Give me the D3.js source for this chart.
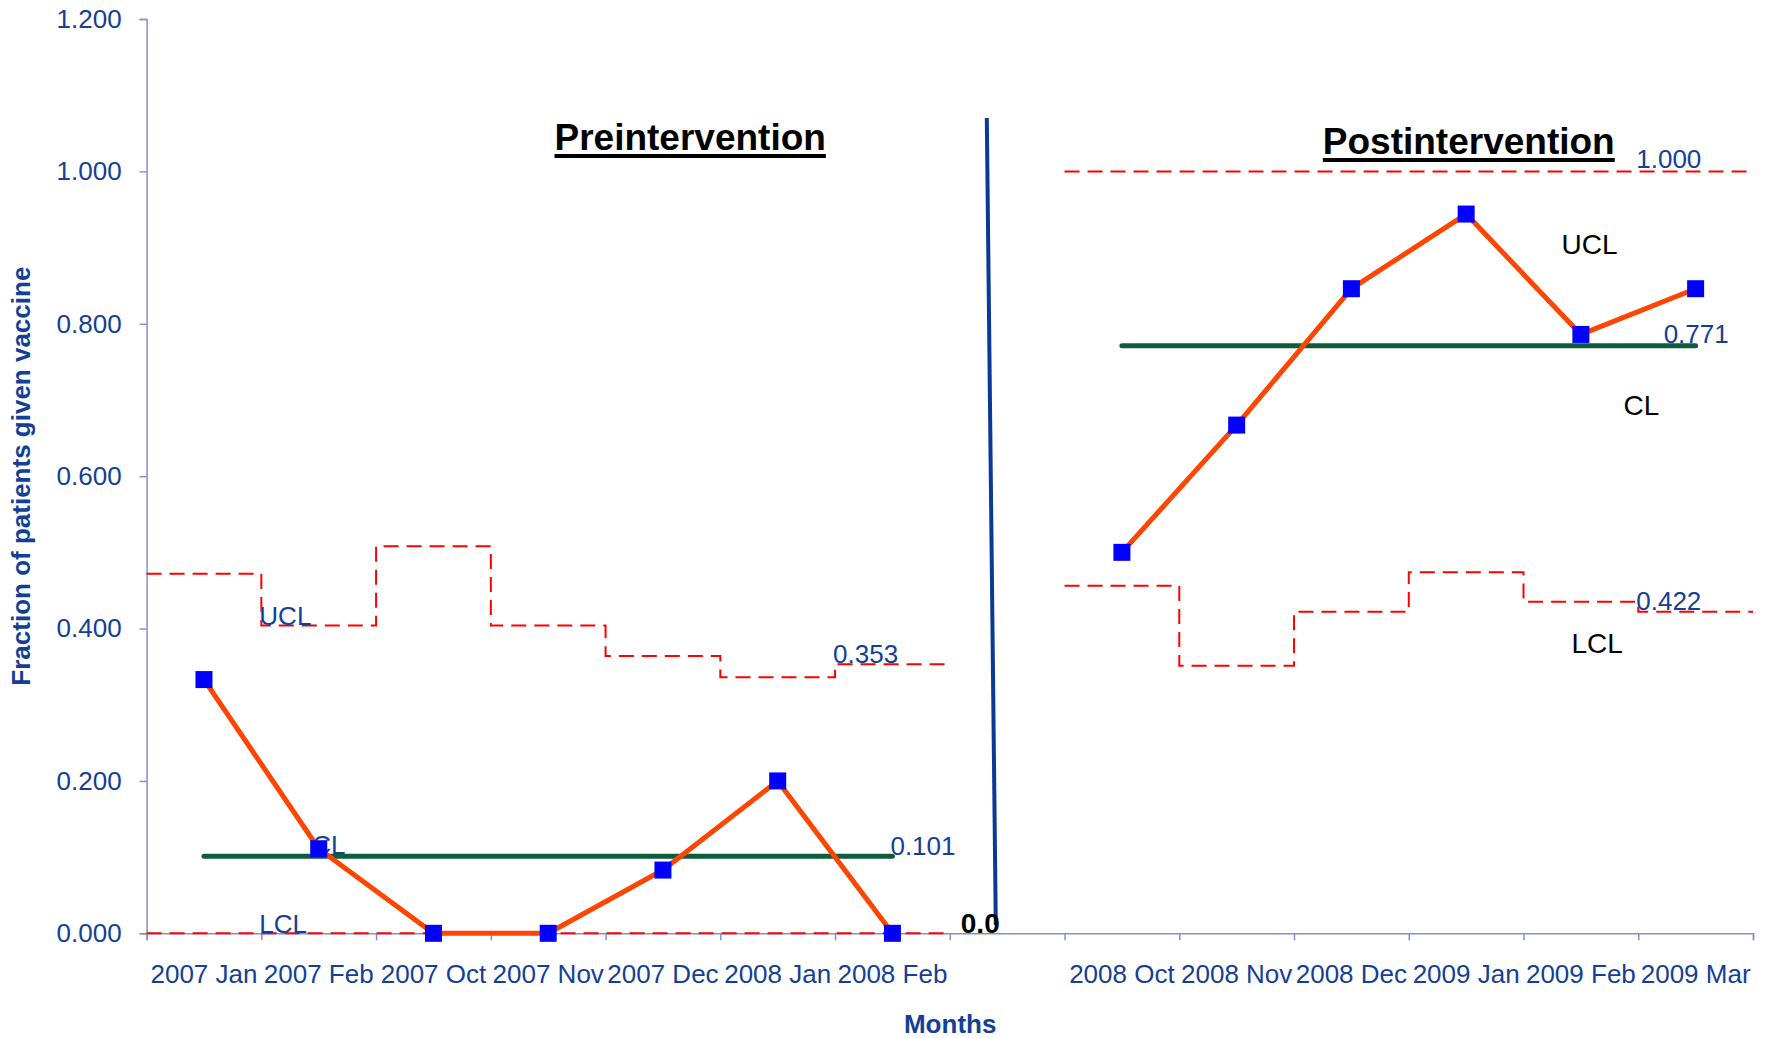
<!DOCTYPE html>
<html>
<head>
<meta charset="utf-8">
<script src="https://cdn.jsdelivr.net/npm/d3@7"></script>
<style>
  html, body { margin: 0; padding: 0; background: #fff; }
  svg { display: block; }
  text { font-family: "Liberation Sans", Arial, sans-serif; }
</style>
</head>
<body>
<svg id="chart" width="1767" height="1038"></svg>
<script>
// ---------------- data ----------------
const categories = ["2007 Jan", "2007 Feb", "2007 Oct", "2007 Nov", "2007 Dec", "2008 Jan", "2008 Feb", "",
                    "2008 Oct", "2008 Nov", "2008 Dec", "2009 Jan", "2009 Feb", "2009 Mar"];
const preFraction  = [0.333, 0.111, 0.000, 0.000, 0.083, 0.200, 0.000];
const postFraction = [0.500, 0.667, 0.846, 0.944, 0.786, 0.846];
const preUCL  = [0.472, 0.404, 0.508, 0.404, 0.364, 0.336, 0.353];
const preLCL  = [0, 0, 0, 0, 0, 0, 0];
const preCL   = 0.101;
const postUCL = [1.000, 1.000, 1.000, 1.000, 1.000, 1.000];
const postLCL = [0.456, 0.351, 0.422, 0.474, 0.435, 0.422];
const postCL  = 0.771;
const yTicks  = [0, 0.2, 0.4, 0.6, 0.8, 1.0, 1.2];
const preStart = 0, postStart = 8, gapIndex = 7;

(function () {
// ---------------- setup ----------------
const svg = d3.select("#chart");
const mLeft = 146.6, mRight = 1753, mTop = 19, mBottom = 933.3;
const nCat = categories.length;
const xEdge = d3.scaleLinear().domain([0, nCat]).range([mLeft, mRight]);
const xBand = d3.scaleBand().domain(d3.range(nCat)).range([mLeft, mRight]);
const cx = i => xBand(i) + xBand.bandwidth() / 2;
const y = d3.scaleLinear().domain([0, 1.2]).range([mBottom, mTop]);

const axisColor = "#8a8ecc";
const blue = "#133f96";
const redDash = "#ff0000";
const orange = "#ff4500";
const green = "#0d5c3b";

// ---------------- axes ----------------
const yAxis = svg.append("g").attr("transform", `translate(${mLeft},0)`)
  .call(d3.axisLeft(y).tickValues(yTicks).tickFormat(d3.format(".3f")).tickSize(7).tickPadding(18));
yAxis.select(".domain").attr("stroke", axisColor).attr("stroke-width", 1.5);
yAxis.selectAll(".tick line").attr("stroke", axisColor).attr("stroke-width", 1.5);
yAxis.selectAll(".tick text").attr("fill", blue).attr("font-size", 26)
  .attr("font-family", "'Liberation Sans', Arial, sans-serif");

const xTicksAxis = svg.append("g").attr("transform", `translate(0,${mBottom})`)
  .call(d3.axisBottom(xEdge).tickValues(d3.range(nCat + 1)).tickSize(7).tickFormat(""));
xTicksAxis.select(".domain").attr("stroke", axisColor).attr("stroke-width", 1.5);
xTicksAxis.selectAll(".tick line").attr("stroke", axisColor).attr("stroke-width", 1.5);

const xLabels = svg.append("g").attr("transform", `translate(0,${mBottom})`)
  .call(d3.axisBottom(xBand).tickSize(0).tickPadding(31).tickFormat(i => categories[i]));
xLabels.select(".domain").remove();
xLabels.selectAll(".tick text").attr("fill", blue).attr("font-size", 26)
  .attr("font-family", "'Liberation Sans', Arial, sans-serif");

// axis titles
svg.append("text")
  .attr("transform", `translate(30,${(y(0) + y(1.2)) / 2})rotate(-90)`)
  .attr("text-anchor", "middle").attr("font-size", 26).attr("font-weight", "bold")
  .attr("fill", blue).text("Fraction of patients given vaccine");
svg.append("text")
  .attr("x", cx(gapIndex) - 57).attr("y", 1033)
  .attr("text-anchor", "middle").attr("font-size", 26).attr("font-weight", "bold")
  .attr("fill", blue).text("Months");

// ---------------- step control limits ----------------
const stepPoints = (vals, s) => vals.flatMap((v, i) => [[xEdge(s + i), y(v)], [xEdge(s + i + 1), y(v)]]);
const line = d3.line();
[[preUCL, preStart], [preLCL, preStart], [postUCL, postStart], [postLCL, postStart]].forEach(([vals, s]) => {
  svg.append("path").attr("d", line(stepPoints(vals, s)))
    .attr("fill", "none").attr("stroke", redDash).attr("stroke-width", 2)
    .attr("stroke-dasharray", "15,8");
});

// ---------------- center lines ----------------
[[preCL, preStart, preFraction.length], [postCL, postStart, postFraction.length]].forEach(([v, s, n]) => {
  svg.append("line")
    .attr("x1", cx(s)).attr("x2", cx(s + n - 1))
    .attr("y1", y(v)).attr("y2", y(v))
    .attr("stroke", green).attr("stroke-width", 5).attr("stroke-linecap", "round");
});

// ---------------- annotation labels ----------------
const blueLabel = (t, x, yy) => svg.append("text").attr("x", x).attr("y", yy)
  .attr("font-size", 26).attr("fill", blue).text(t);
blueLabel("UCL", xEdge(1) - 2, y(preUCL[1]));
blueLabel("CL", xEdge(1) + 51, y(preCL) - 2);
blueLabel("LCL", xEdge(1) - 2, y(0));
blueLabel(preUCL[6].toFixed(3), xEdge(6) - 2, y(preUCL[6]) - 1);
blueLabel(preCL.toFixed(3), cx(6) - 2, y(preCL) - 1);
blueLabel(postUCL[5].toFixed(3), xEdge(13) - 2, y(postUCL[5]) - 3);
blueLabel(postCL.toFixed(3), cx(13) - 32, y(postCL) - 3);
blueLabel(postLCL[5].toFixed(3), xEdge(13) - 2, y(postLCL[5]) - 2);

const blackLabel = (t, x, yy) => svg.append("text").attr("x", x).attr("y", yy)
  .attr("font-size", 28).attr("fill", "#000").text(t);
blackLabel("UCL", xEdge(12) + 38, y(0.892));
blackLabel("CL", xEdge(12) + 100, y(0.680));
blackLabel("LCL", xEdge(12) + 48, y(0.368));

// ---------------- data series ----------------
const series = [
  preFraction.map((v, i) => [cx(preStart + i), y(v)]),
  postFraction.map((v, i) => [cx(postStart + i), y(v)])
];
series.forEach(pts => {
  svg.append("path").attr("d", line(pts)).attr("fill", "none")
    .attr("stroke", orange).attr("stroke-width", 5).attr("stroke-linejoin", "round");
});
const ms = 17;
series.forEach(pts => {
  svg.selectAll(null).data(pts).enter().append("rect")
    .attr("x", d => d[0] - ms / 2).attr("y", d => d[1] - ms / 2)
    .attr("width", ms).attr("height", ms).attr("fill", "#0000ff");
});

// ---------------- divider & gap label ----------------
svg.append("line")
  .attr("x1", xEdge(gapIndex) + 37).attr("y1", y(1.07))
  .attr("x2", xEdge(gapIndex) + 46).attr("y2", y(0.011))
  .attr("stroke", "#0a3a96").attr("stroke-width", 4);
svg.append("text").attr("x", xEdge(gapIndex) + 11).attr("y", y(0))
  .attr("font-size", 28).attr("font-weight", "bold").attr("fill", "#000").text("0.0");

// ---------------- panel titles ----------------
const title = (t, x, yy) => {
  const tx = svg.append("text").attr("x", x).attr("y", yy).attr("text-anchor", "middle")
    .attr("font-size", 37).attr("font-weight", "bold").attr("fill", "#000").text(t);
  const w = tx.node().getComputedTextLength();
  svg.append("rect").attr("x", x - w / 2).attr("y", yy + 4).attr("width", w).attr("height", 4).attr("fill", "#000");
};
title("Preintervention", (xEdge(preStart) + xEdge(gapIndex)) / 2 + 142, 150);
title("Postintervention", (xEdge(postStart) + xEdge(nCat)) / 2 + 60, 154);
})();
</script>
</body>
</html>
